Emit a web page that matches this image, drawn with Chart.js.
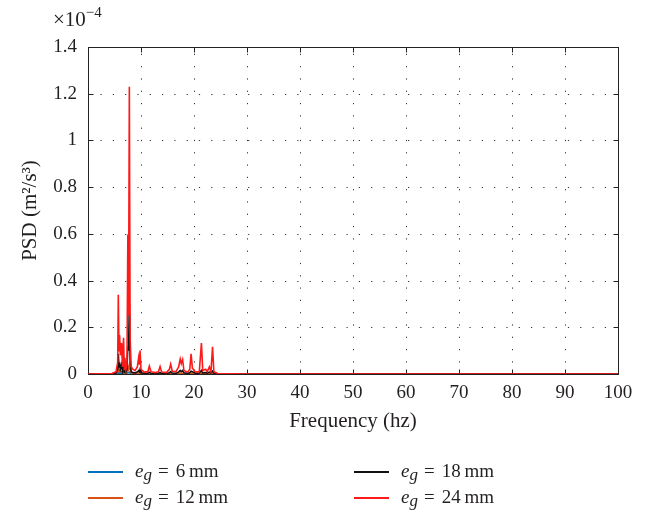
<!DOCTYPE html>
<html>
<head>
<meta charset="utf-8">
<script src="https://cdn.jsdelivr.net/npm/chart.js@4/dist/chart.umd.min.js"></script>
<style>
  body { margin: 0; background: #fff; }
  #wrap { position: relative; width: 646px; height: 514px; font-family: "Liberation Serif", "DejaVu Serif", serif; color: #231f20; }
  #c { position: absolute; left: 0; top: 0; }
  #exp { position: absolute; left: 53px; top: 8px; font-size: 21px; line-height: 22px; }
  #exp sup { font-size: 15px; position: relative; top: -3px; vertical-align: top; line-height: 15px; }
  .item { position: absolute; font-size: 19px; line-height: 20px; white-space: nowrap; }
  .item .ln { position: absolute; top: 10px; height: 2px; width: 35px; }
  .item .tx { position: absolute; left: 47px; top: 0; }
  .item .eq { margin: 0 7px 0 6px; }
  .item sub { font-size: 17px; position: relative; top: 3px; vertical-align: baseline; line-height: 0; }
</style>
</head>
<body>
<div id="wrap">
  <canvas id="c" width="646" height="514"></canvas>
  <div id="exp">×10<sup>−4</sup></div>
  <div id="legend"></div>
</div>
<script>
// frequency (hz) and PSD values (x 1e-4 m^2/s^3)
const freq  = [0, 4.5, 5.3, 5.6, 5.72, 5.85, 5.96, 6.1, 6.33, 6.5, 6.71, 6.85, 6.96, 7.15, 7.35, 7.52, 7.65, 7.8, 7.95, 8.15,
               8.5, 8.9, 9.3, 9.55, 9.7, 9.82, 10.0, 10.6, 11.3, 11.57, 11.9, 12.7, 13.3, 13.6, 13.9, 14.8, 15.35, 15.6, 15.9, 16.6,
               17.1, 17.4, 17.6, 17.85, 18.1, 18.8, 19.2, 19.45, 19.7, 20.3, 21.0, 21.4, 21.65, 22.2, 22.5, 22.9, 23.2, 23.5, 23.75, 24.5,
               30, 100];
const psd24 = [0, 0.002, 0.01, 0.05, 0.339, 0.10, 0.167, 0.08, 0.133, 0.03, 0.155, 0.02, 0.069, 0.02, 0.04, 0.597, 0.25, 1.23, 0.15, 0.03,
               0.02, 0.015, 0.03, 0.069, 0.04, 0.10, 0.02, 0.008, 0.01, 0.034, 0.01, 0.006, 0.01, 0.032, 0.008, 0.006, 0.02, 0.042, 0.012, 0.01,
               0.03, 0.064, 0.045, 0.062, 0.015, 0.008, 0.02, 0.086, 0.025, 0.008, 0.01, 0.133, 0.015, 0.02, 0.01, 0.03, 0.01, 0.116, 0.01, 0.002,
               0, 0];
const psd18 = [0, 0.001, 0.004, 0.02, 0.086, 0.03, 0.05, 0.02, 0.04, 0.01, 0.03, 0.008, 0.02, 0.008, 0.02, 0.12, 0.10, 0.30, 0.06, 0.01,
               0.006, 0.005, 0.008, 0.015, 0.01, 0.02, 0.005, 0.003, 0.003, 0.008, 0.003, 0.002, 0.003, 0.006, 0.002, 0.002, 0.005, 0.01, 0.004, 0.003,
               0.008, 0.015, 0.01, 0.015, 0.005, 0.003, 0.005, 0.012, 0.01, 0.003, 0.004, 0.015, 0.005, 0.006, 0.004, 0.008, 0.004, 0.012, 0.003, 0.001,
               0, 0];
const psd12 = [0, 0, 0.002, 0.01, 0.02, 0.01, 0.015, 0.01, 0.01, 0.005, 0.01, 0.004, 0.006, 0.004, 0.01, 0.03, 0.02, 0.04, 0.02, 0.006,
               0.003, 0.002, 0.003, 0.004, 0.003, 0.005, 0.002, 0.001, 0.001, 0.003, 0.001, 0.001, 0.001, 0.002, 0.001, 0.001, 0.002, 0.003, 0.001, 0.001,
               0.002, 0.004, 0.003, 0.003, 0.002, 0.001, 0.002, 0.004, 0.003, 0.001, 0.001, 0.004, 0.002, 0.002, 0.001, 0.002, 0.001, 0.003, 0.001, 0,
               0, 0];
const psd6  = [0, 0, 0.001, 0.003, 0.005, 0.003, 0.004, 0.003, 0.003, 0.002, 0.003, 0.001, 0.002, 0.002, 0.003, 0.006, 0.005, 0.008, 0.004, 0.002,
               0.001, 0.001, 0.001, 0.001, 0.001, 0.002, 0.001, 0, 0, 0.001, 0, 0, 0, 0.001, 0, 0, 0.001, 0.001, 0, 0,
               0.001, 0.001, 0.001, 0.001, 0, 0, 0.001, 0.001, 0.001, 0, 0, 0.001, 0, 0.001, 0, 0.001, 0, 0.001, 0, 0,
               0, 0];

const xTicks = [0, 10, 20, 30, 40, 50, 60, 70, 80, 90, 100];
const yTicks = [0, 0.2, 0.4, 0.6, 0.8, 1.0, 1.2, 1.4];
const yLabels = ['0', '0.2', '0.4', '0.6', '0.8', '1', '1.2', '1.4'];

const series = [
  { name: '24', values: psd24, color: '#ff1a1a', order: 0 },
  { name: '18', values: psd18, color: '#111111', order: 1 },
  { name: '12', values: psd12, color: '#d95319', order: 2 },
  { name: '6',  values: psd6,  color: '#0072bd', order: 3 }
];

const toPoints = vals => freq.map((f, i) => ({ x: f, y: vals[i] }));

// MATLAB style box, inside ticks and dotted grid
const boxPlugin = {
  id: 'box',
  beforeDatasetsDraw(chart) {
    const { ctx, chartArea: a, scales } = chart;
    const L = Math.round(a.left) + 0.5, R = Math.round(a.right) + 0.5;
    const T = Math.round(a.top) + 0.5, B = Math.round(a.bottom) + 0.5;
    ctx.save();
    ctx.strokeStyle = '#333';
    ctx.lineWidth = 1;
    ctx.setLineDash([1.2, 11.1]);
    ctx.lineDashOffset = -12;
    xTicks.slice(1, -1).forEach(v => {
      const px = Math.round(scales.x.getPixelForValue(v)) + 0.5;
      ctx.beginPath(); ctx.moveTo(px, B); ctx.lineTo(px, T); ctx.stroke();
    });
    yTicks.slice(1, -1).forEach(v => {
      const py = Math.round(scales.y.getPixelForValue(v)) + 0.5;
      ctx.beginPath(); ctx.moveTo(L, py); ctx.lineTo(R, py); ctx.stroke();
    });
    ctx.setLineDash([]);
    ctx.strokeStyle = '#222';
    ctx.strokeRect(L, T, R - L, B - T);
    ctx.beginPath();
    xTicks.forEach(v => {
      const px = Math.round(scales.x.getPixelForValue(v)) + 0.5;
      ctx.moveTo(px, B); ctx.lineTo(px, B - 5);
      ctx.moveTo(px, T); ctx.lineTo(px, T + 5);
    });
    yTicks.forEach(v => {
      const py = Math.round(scales.y.getPixelForValue(v)) + 0.5;
      ctx.moveTo(L, py); ctx.lineTo(L + 5, py);
      ctx.moveTo(R, py); ctx.lineTo(R - 5, py);
    });
    ctx.stroke();
    ctx.restore();
  }
};

const font = { family: '"Liberation Serif", "DejaVu Serif", serif', size: 19 };
const titleFont = { family: '"Liberation Serif", "DejaVu Serif", serif', size: 21 };

new Chart(document.getElementById('c'), {
  type: 'line',
  data: {
    datasets: series.map(s => ({
      label: 'e_g = ' + s.name + ' mm',
      data: toPoints(s.values),
      borderColor: s.color,
      borderWidth: 1.6,
      pointRadius: 0,
      tension: 0,
      order: s.order
    }))
  },
  options: {
    responsive: false,
    animation: false,
    events: [],
    layout: { padding: { left: 0, right: 28, top: 47, bottom: 80 } },
    plugins: { legend: { display: false }, tooltip: { enabled: false } },
    scales: {
      x: {
        type: 'linear', min: 0, max: 100,
        afterBuildTicks: sc => { sc.ticks = xTicks.map(v => ({ value: v })); },
        afterFit: sc => { sc.height = 60; },
        grid: { display: false },
        border: { display: false },
        ticks: { color: '#231f20', font: font, padding: 0, maxRotation: 0 },
        title: { display: true, text: 'Frequency (hz)', color: '#231f20', font: titleFont, padding: 0 }
      },
      y: {
        min: 0, max: 1.4,
        afterBuildTicks: sc => { sc.ticks = yTicks.map(v => ({ value: v })); },
        afterFit: sc => { sc.width = 88; },
        grid: { display: false },
        border: { display: false },
        ticks: { color: '#231f20', font: font, padding: 3, callback: (v, i) => yLabels[i] },
        title: { display: true, text: 'PSD (m²/s³)', color: '#231f20', font: titleFont, padding: { top: 18, bottom: 0 } }
      }
    }
  },
  plugins: [boxPlugin]
});

// legend below the plot, two columns
const legendItems = [
  { name: '6',  color: '#0072bd', x: 88,  y: 461 },
  { name: '12', color: '#d95319', x: 88,  y: 487 },
  { name: '18', color: '#111111', x: 354, y: 461 },
  { name: '24', color: '#ff1a1a', x: 354, y: 487 }
];
const legend = document.getElementById('legend');
legendItems.forEach(it => {
  const d = document.createElement('div');
  d.className = 'item';
  d.style.left = it.x + 'px';
  d.style.top = it.y + 'px';
  d.innerHTML = '<span class="ln" style="background:' + it.color + '"></span>' +
    '<span class="tx"><i>e</i><sub><i>g</i></sub><span class="eq">=</span>' + it.name + '&thinsp;mm</span>';
  legend.appendChild(d);
});
</script>
</body>
</html>
